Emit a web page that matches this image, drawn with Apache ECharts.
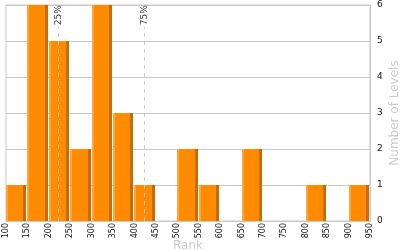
<!DOCTYPE html>
<html><head><meta charset="utf-8">
<script src="https://cdn.jsdelivr.net/npm/echarts@6/dist/echarts.min.js"></script>
<style>html,body{margin:0;padding:0;background:#fff}#c{width:400px;height:250px}</style>
</head><body><div id="c"></div>
<script>
var binStarts = [100,150,200,250,300,350,400,450,500,550,600,650,700,750,800,850,900];
var binWidth = 50;
var counts = [1,6,5,2,6,3,1,0,2,1,0,2,0,0,1,0,1];
var quartileValues = [222, 423];
var quartileLabels = ['25%', '75%'];
var quartileLineTop = 5.38;

var barData = binStarts.map(function(s, i){ return [s, s + binWidth, counts[i]]; });
var qLines = quartileValues.map(function(v){ return [{coord:[v,0]},{coord:[v,quartileLineTop]}]; });
var qLabelData = quartileValues.map(function(v, i){ return {value:[v, quartileLineTop], name: quartileLabels[i]}; });

var font = 'DejaVu Sans';
var chart = echarts.init(document.getElementById('c'), null, {renderer:'canvas'});
chart.setOption({
  animation:false,
  grid:{left:6,right:30,top:5,bottom:29,show:true,borderColor:'#c8c8c8',borderWidth:1,backgroundColor:'transparent',
    containLabel:false,outerBoundsMode:'none'},
  xAxis:{type:'value',min:100,max:950,interval:50,
    name:'Rank',nameLocation:'middle',nameGap:19,nameMoveOverlap:false,
    nameTextStyle:{color:'#cccccc',fontSize:12,fontFamily:font},
    axisLine:{show:true,lineStyle:{color:'#c8c8c8'}},axisTick:{show:false},splitLine:{show:false},
    axisLabel:{rotate:90,margin:2,color:'#111',fontSize:8,fontFamily:font,showMinLabel:true,showMaxLabel:true}},
  yAxis:{type:'value',min:0,max:6,interval:1,position:'right',
    name:'Number of Levels',nameLocation:'middle',nameGap:19,nameRotate:90,nameMoveOverlap:false,
    nameTextStyle:{color:'#cccccc',fontSize:12,fontFamily:font},
    axisLine:{show:true,lineStyle:{color:'#c8c8c8'}},axisTick:{show:false},
    splitLine:{show:true,lineStyle:{color:'#c8c8c8'}},
    axisLabel:{margin:7,color:'#111',fontSize:9,fontFamily:font}},
  series:[
    {type:'custom',data:barData,encode:{x:[0,1],y:2},
      renderItem:function(params, api){
        var y = api.value(2);
        if(!y) return null;
        var p0 = api.coord([api.value(0), y]);
        var p1 = api.coord([api.value(1), 0]);
        var l = Math.round(p0[0]), r = Math.round(p1[0]) - 1;
        var t = Math.round(p0[1]), b = Math.round(p1[1]);
        var h = b - t;
        return {type:'group',children:[
          {type:'rect',shape:{x:l,y:t,width:r-l,height:h},style:{fill:'#ff8c00'}},
          {type:'rect',shape:{x:l,y:t,width:2,height:h},style:{fill:'#ffa53f'}},
          {type:'rect',shape:{x:r-3,y:t,width:3,height:h},style:{fill:'#c66c00'}}
        ]};
      },
      markLine:{silent:true,symbol:'none',label:{show:false},
        lineStyle:{color:'#c8c8c8',type:[4,4],width:1},data:qLines}
    },
    {type:'scatter',data:qLabelData,symbolSize:0,silent:true,
      label:{show:true,position:'top',distance:2,rotate:90,align:'left',verticalAlign:'middle',
        formatter:function(p){return p.name;},color:'#000',fontSize:9,fontFamily:font}}
  ]
});
</script></body></html>
